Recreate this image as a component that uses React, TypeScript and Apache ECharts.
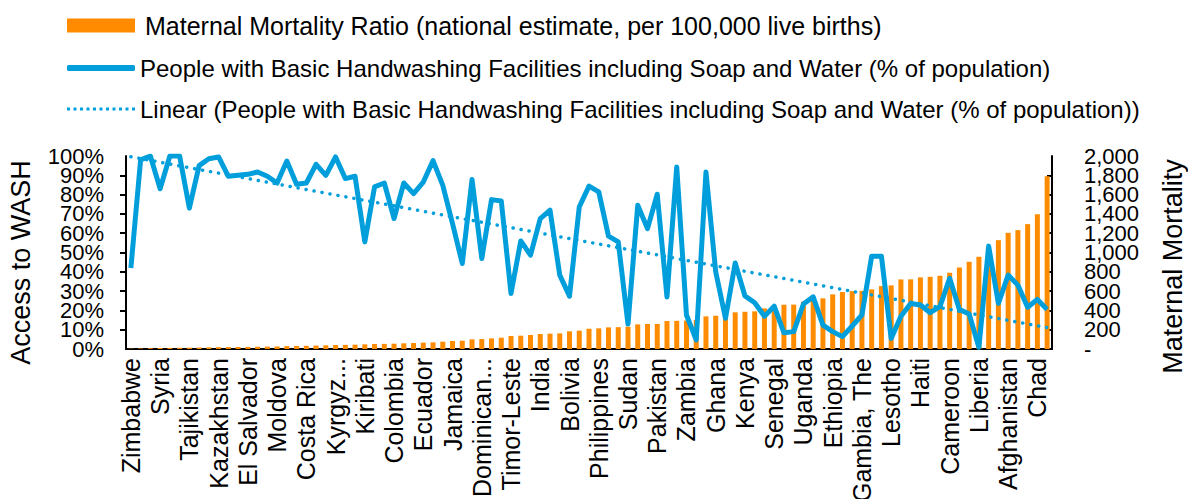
import React, { useEffect, useRef } from "react";
import * as echarts from "echarts";

const categories: string[] = [
  "Zimbabwe", "Belarus", "Serbia", "Syria", "Montenegro", "Armenia", "Tajikistan", "Bosnia and Herzegovina", "North Macedonia", "Kazakhstan",
  "Uzbekistan", "Turkmenistan", "El Salvador", "Georgia", "Albania", "Moldova", "Ukraine", "Thailand", "Costa Rica", "Tunisia",
  "Azerbaijan", "Kyrgyz Republic", "Jordan", "Mongolia", "Kiribati", "Iraq", "Vietnam", "Colombia", "Peru", "Algeria",
  "Ecuador", "Egypt", "Belize", "Jamaica", "Tuvalu", "Suriname", "Dominican Republic", "Morocco", "Guyana", "Timor-Leste",
  "Bangladesh", "Nepal", "India", "Indonesia", "Guatemala", "Bolivia", "Bhutan", "Namibia", "Philippines", "Botswana",
  "Myanmar", "Sudan", "Rwanda", "Vanuatu", "Pakistan", "Malawi", "Lao PDR", "Zambia", "Madagascar", "Papua New Guinea",
  "Ghana", "Mozambique", "Tanzania", "Kenya", "Burkina Faso", "Benin", "Senegal", "Togo", "Eritrea", "Uganda",
  "Mali", "Burundi", "Ethiopia", "Niger", "Guinea", "Gambia, The", "Sierra Leone", "Congo, Rep.", "Lesotho", "Mauritania",
  "Angola", "Haiti", "Guinea-Bissau", "Nigeria", "Cameroon", "Congo, Dem. Rep.", "Somalia", "Liberia", "Central African Republic", "Eswatini",
  "Afghanistan", "Yemen", "Cote d'Ivoire", "Chad", "South Sudan",
];

// Maternal Mortality Ratio (per 100,000 live births)
const mmr: number[] = [
  3, 5, 8, 10, 12, 13, 14, 15, 17, 19,
  20, 21, 22, 24, 25, 26, 30, 32, 33, 36,
  38, 41, 43, 45, 48, 52, 53, 55, 59, 62,
  66, 69, 76, 83, 86, 100, 103, 110, 117, 134,
  138, 145, 155, 159, 162, 183, 190, 210, 214, 224,
  226, 231, 255, 259, 260, 290, 292, 295, 300, 338,
  345, 352, 380, 386, 390, 421, 423, 459, 460, 490,
  500, 525, 566, 590, 600, 603, 618, 652, 659, 721,
  722, 742, 748, 759, 790, 845, 904, 956, 1040, 1128,
  1204, 1232, 1294, 1397, 1790,
];

// People with basic handwashing facilities (% of population)
const wash: number[] = [
  42, 98, 100, 83, 100, 100, 73, 95, 98.6, 99.5,
  89.5, 90, 90.5, 91.7, 89.5, 86, 97.4, 85.4, 86, 95.7,
  90, 99.5, 88.3, 89.5, 55.5, 84, 86, 67.6, 86, 80.5,
  86.5, 97.6, 84.8, 65, 44.3, 87.8, 46.9, 77.4, 76.7, 28.8,
  56, 48.6, 67.6, 71.9, 38.3, 27.4, 73.6, 84.4, 81.4, 58.5,
  55.5, 12.9, 74.5, 62.4, 80.2, 27, 94.3, 17.6, 4.7, 91.7,
  40, 15.9, 44.6, 27.5, 24, 17, 22.2, 8.4, 9, 23.3,
  27, 12.4, 9, 6.4, 11.9, 17.6, 48.1, 48.1, 5.5, 17,
  23.6, 22.8, 18.8, 21.9, 36.6, 20.5, 18.1, 0.9, 53.3, 23.6,
  38.3, 33.1, 21.6, 25.7, 20.5,
];

const barName = "Maternal Mortality Ratio (national estimate, per 100,000 live births)";
const lineName = "People with Basic Handwashing Facilities including Soap and Water (% of population)";
const trendName = "Linear (People with Basic Handwashing Facilities including Soap and Water (% of population))";

const ORANGE = "#FF8C00";
const BLUE = "#009FDC";
const FONT = "'Liberation Sans', Arial, sans-serif";

function linearTrend(values: number[]): number[] {
  const n = values.length;
  let sx = 0, sy = 0, sxx = 0, sxy = 0;
  values.forEach((v, i) => {
    sx += i; sy += v; sxx += i * i; sxy += i * v;
  });
  const slope = (n * sxy - sx * sy) / (n * sxx - sx * sx);
  const intercept = (sy - slope * sx) / n;
  return values.map((_, i) => +(intercept + slope * i).toFixed(2));
}

function dottedIconPath(): string {
  let d = "path://";
  const dots = 11;
  for (let k = 0; k < dots; k++) {
    const x = k * 6.6;
    d += `M${x.toFixed(1)},0h3v3h-3z`;
  }
  return d;
}

const pctLabel = (v: number) => `${v}%`;
const mmrLabel = (v: number) => (v === 0 ? "-" : v.toLocaleString("en-US"));
const tickFont = { fontSize: 22, color: "#000", fontFamily: FONT };

export default function App() {
  const ref = useRef<HTMLDivElement>(null);

  useEffect(() => {
    if (!ref.current) return;
    const chart = echarts.init(ref.current, undefined, { renderer: "svg" });
    const trend = linearTrend(wash);

    const legendText = { fontFamily: FONT, fontSize: 24, color: "#000" };

    chart.setOption({
      animation: false,
      backgroundColor: "#fff",
      textStyle: { fontFamily: FONT },
      legend: [
        {
          left: 62, top: 8, itemWidth: 68, itemHeight: 14,
          data: [{ name: barName, icon: "rect" }],
          textStyle: { ...legendText, fontSize: 25, padding: [0, 0, 0, 5] },
          selectedMode: false,
        },
        {
          left: 62, top: 51, itemWidth: 68, itemHeight: 6,
          data: [{ name: lineName, icon: "roundRect" }],
          textStyle: { ...legendText, padding: [0, 0, 0, 0] },
          selectedMode: false,
        },
        {
          left: 62, top: 92, itemWidth: 68, itemHeight: 3,
          data: [{ name: trendName, icon: dottedIconPath() }],
          textStyle: { ...legendText, padding: [0, 0, 0, 0] },
          selectedMode: false,
        },
      ],
      grid: { left: 126, right: 136, top: 156, bottom: 150, outerBoundsMode: "none", containLabel: false },
      xAxis: {
        type: "category",
        data: categories,
        axisLine: { lineStyle: { color: "#000", width: 2 } },
        axisTick: { show: false },
        axisLabel: {
          interval: 2,
          rotate: 90,
          margin: 9,
          fontSize: 25,
          color: "#000",
          fontFamily: FONT,
          formatter: (v: string) => (v.length > 12 ? v.split(" ")[0] + "..." : v),
        },
      },
      yAxis: [
        {
          // main left axis: inner tick labels 10%..90%
          type: "value",
          position: "left",
          min: 0, max: 100, interval: 10,
          name: "Access to WASH",
          nameLocation: "middle",
          nameGap: 92,
          nameTextStyle: { fontSize: 27, color: "#000", fontFamily: FONT, padding: [0, 20, 0, 0] },
          axisLine: { show: true, lineStyle: { color: "#000", width: 2 } },
          axisTick: { show: true, length: 6, lineStyle: { color: "#000", width: 2 } },
          axisLabel: { ...tickFont, formatter: pctLabel, margin: 22, showMinLabel: false, showMaxLabel: false },
          splitLine: { show: false },
        },
        {
          // main right axis: inner tick labels 200..1,800
          type: "value",
          position: "right",
          min: 0, max: 2000, interval: 200,
          name: "Maternal Mortality",
          nameLocation: "middle",
          nameGap: 107,
          nameTextStyle: { fontSize: 27, color: "#000", fontFamily: FONT, padding: [0, 28, 0, 0] },
          axisLine: { show: true, lineStyle: { color: "#000", width: 2 } },
          axisTick: { show: true, inside: true, length: 5, lineStyle: { color: "#000", width: 2 } },
          axisLabel: { ...tickFont, formatter: mmrLabel, margin: 32, showMinLabel: false, showMaxLabel: false },
          splitLine: { show: false },
        },
        {
          // end labels 0% and 100% of the left axis
          type: "value",
          position: "left",
          min: 0, max: 100, interval: 100,
          axisLine: { show: false },
          axisTick: { show: false },
          axisLabel: { ...tickFont, formatter: pctLabel, margin: 22, showMinLabel: true, showMaxLabel: true },
          splitLine: { show: false },
        },
        {
          // end labels "-" and 2,000 of the right axis
          type: "value",
          position: "right",
          min: 0, max: 2000, interval: 2000,
          axisLine: { show: false },
          axisTick: { show: false },
          axisLabel: { ...tickFont, formatter: mmrLabel, margin: 32, showMinLabel: true, showMaxLabel: true },
          splitLine: { show: false },
        },
      ],
      series: [
        {
          name: barName,
          type: "bar",
          yAxisIndex: 1,
          data: mmr,
          barWidth: 5,
          itemStyle: { color: ORANGE },
          z: 1,
        },
        {
          name: lineName,
          type: "line",
          yAxisIndex: 0,
          data: wash,
          symbol: "none",
          lineStyle: { color: BLUE, width: 5, join: "round" },
          itemStyle: { color: BLUE },
          z: 3,
        },
        {
          name: trendName,
          type: "line",
          yAxisIndex: 0,
          data: trend,
          symbol: "none",
          lineStyle: { color: BLUE, width: 3.5, type: [0.1, 8], cap: "round" },
          itemStyle: { color: BLUE },
          z: 4,
        },
      ],
    });

    return () => chart.dispose();
  }, []);

  return (
    <div
      ref={ref}
      style={{ position: "fixed", left: 0, top: 0, width: 1188, height: 499, background: "#fff" }}
    />
  );
}
